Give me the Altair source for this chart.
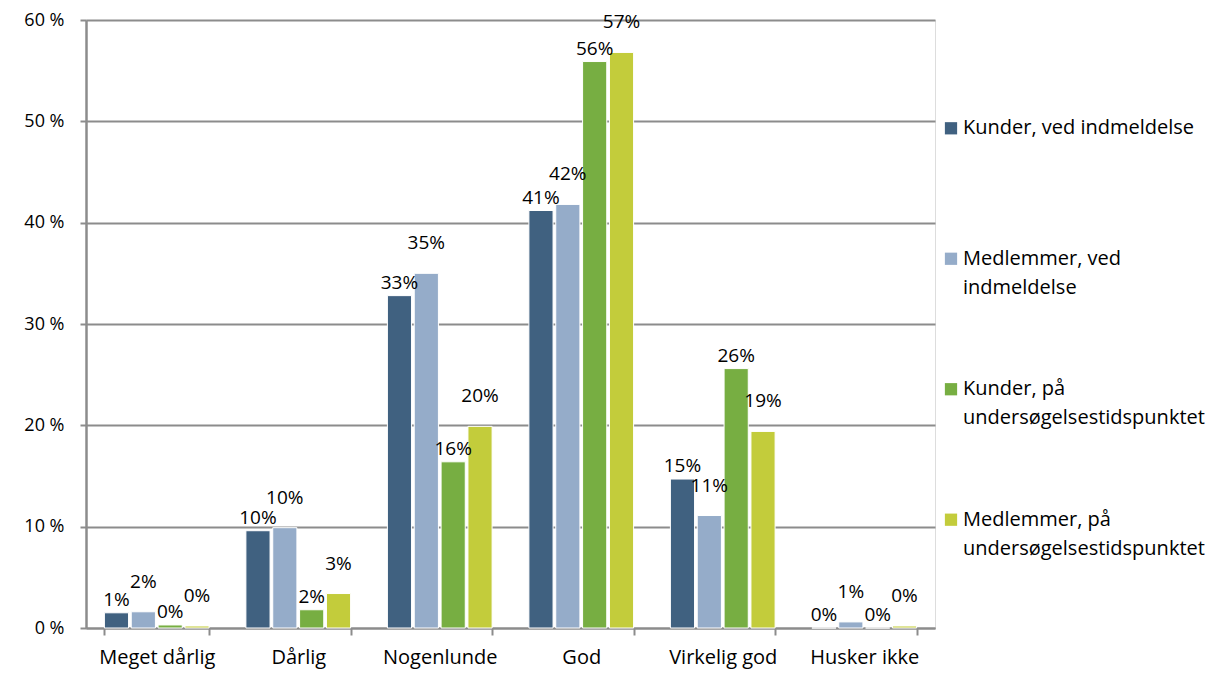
import altair as alt
import pandas as pd

categories = ["Meget dårlig", "Dårlig", "Nogenlunde", "God", "Virkelig god", "Husker ikke"]
series = [
    "Kunder, ved indmeldelse",
    "Medlemmer, ved indmeldelse",
    "Kunder, på undersøgelsestidspunktet",
    "Medlemmer, på undersøgelsestidspunktet",
]
legend_line1 = ["Kunder, ved indmeldelse", "Medlemmer, ved", "Kunder, på", "Medlemmer, på"]
legend_line2 = ["", "indmeldelse", "undersøgelsestidspunktet", "undersøgelsestidspunktet"]
colors = ["#406180", "#95acc9", "#77ae42", "#c3cc3b"]

kunder_ved = [1.5, 9.6, 32.8, 41.2, 14.7, 0.0]
medlemmer_ved = [1.6, 9.9, 35.0, 41.8, 11.1, 0.6]
kunder_paa = [0.3, 1.8, 16.4, 55.9, 25.6, 0.0]
medlemmer_paa = [0.2, 3.4, 19.9, 56.8, 19.4, 0.2]

labels_kunder_ved = ["1%", "10%", "33%", "41%", "15%", "0%"]
labels_medlemmer_ved = ["2%", "10%", "35%", "42%", "11%", "1%"]
labels_kunder_paa = ["0%", "2%", "16%", "56%", "26%", "0%"]
labels_medlemmer_paa = ["0%", "3%", "20%", "57%", "19%", "0%"]

values = [kunder_ved, medlemmer_ved, kunder_paa, medlemmer_paa]
labels = [labels_kunder_ved, labels_medlemmer_ved, labels_kunder_paa, labels_medlemmer_paa]

rows = []
for s, vals, labs in zip(series, values, labels):
    for c, v, l in zip(categories, vals, labs):
        rows.append({"kategori": c, "serie": s, "vaerdi": v, "label": l})
df = pd.DataFrame(rows)

leg_df = pd.DataFrame({"serie": series, "line1": legend_line1, "line2": legend_line2})

FONT = "Open Sans"
GRID = "#8c8c8c"

color_scale = alt.Scale(domain=series, range=colors)

x = alt.X("kategori:N", sort=categories, title=None,
          scale=alt.Scale(paddingInner=0.26, paddingOuter=0.13),
          axis=alt.Axis(labelAngle=0, labelFontSize=20, labelFont=FONT, labelColor="#000",
                        labelPadding=12, tickBand="extent", tickSize=7, tickColor=GRID,
                        tickWidth=2, domainColor=GRID, domainWidth=2, grid=False))
xo = alt.XOffset("serie:N", sort=series, scale=alt.Scale(paddingInner=0.1))

base = alt.Chart(df).encode(x=x, xOffset=xo)

bars = base.mark_bar(stroke="white", strokeWidth=1).encode(
    y=alt.Y("vaerdi:Q", title=None,
            scale=alt.Scale(domain=[0, 60], nice=False),
            axis=alt.Axis(values=[0, 10, 20, 30, 40, 50, 60], labelExpr="datum.value + ' %'",
                          labelFontSize=18, labelFont=FONT, labelColor="#000",
                          labelPadding=16, tickSize=6, tickColor=GRID, tickWidth=2,
                          gridColor=GRID, gridWidth=2, domainColor=GRID, domainWidth=2.5)),
    color=alt.Color("serie:N", sort=series, scale=color_scale, legend=None),
)

text_low = base.mark_text(baseline="middle", dy=-13, fontSize=19, font=FONT, color="#000").encode(
    y=alt.Y("vaerdi:Q"), text="label:N",
).transform_filter(alt.FieldOneOfPredicate(field="serie", oneOf=[series[0], series[2]]))

text_high = base.mark_text(baseline="middle", dy=-30, fontSize=19, font=FONT, color="#000").encode(
    y=alt.Y("vaerdi:Q"), text="label:N",
).transform_filter(alt.FieldOneOfPredicate(field="serie", oneOf=[series[1], series[3]]))

main = alt.layer(bars, text_low, text_high)

leg_y = alt.Y("serie:N", sort=series, axis=None, title=None,
              scale=alt.Scale(type="point", padding=0.83))
leg_base = alt.Chart(leg_df).encode(y=leg_y)
leg_sym = leg_base.mark_square(size=150, opacity=1).encode(
    x=alt.value(865),
    color=alt.Color("serie:N", sort=series, scale=color_scale, legend=None),
)
leg_t1 = leg_base.mark_text(align="left", baseline="middle", fontSize=20, font=FONT,
                            color="#000").encode(x=alt.value(877), text="line1:N")
leg_t2 = leg_base.mark_text(align="left", baseline="middle", dy=29, fontSize=20, font=FONT,
                            color="#000").encode(x=alt.value(877), text="line2:N")
legend = alt.layer(leg_sym, leg_t1, leg_t2)

chart = alt.layer(main, legend).resolve_scale(y="independent").properties(
    width=849, height=608,
    padding={"left": 78, "top": 12, "right": 280, "bottom": 44},
    autosize=alt.AutoSizeParams(type="none"),
).configure_view(stroke=None).configure(font=FONT)

chart.save("out.html", embed_options={"renderer": "svg", "actions": False})
